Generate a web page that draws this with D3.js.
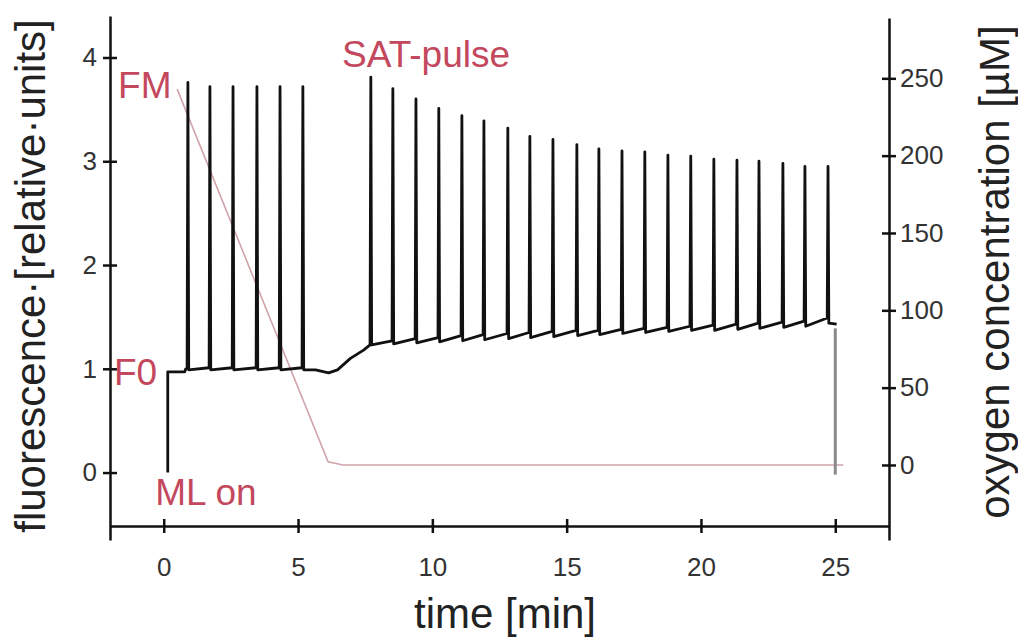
<!DOCTYPE html>
<html>
<head>
<meta charset="utf-8">
<script src="https://cdn.jsdelivr.net/npm/d3@7"></script>
<style>
	body { margin: 0; background: #fff; }
	svg { display: block; font-family: "Liberation Sans", Arial, sans-serif; }
</style>
</head>
<body>
<svg id="svg" width="1018" height="637"></svg>
<script>
"use strict";

// tick values
const timeTicks = [0, 5, 10, 15, 20, 25];
const fluoTicks = [0, 1, 2, 3, 4];
const oxyTicks = [0, 50, 100, 150, 200, 250];

// fluorescence trace: switching on the measuring light
const leadTime = [0.15, 0.15, 0.78, 0.82];
const leadValue = [0.0, 0.97, 0.97, 1.0];

// saturation pulses
const spikeTime = [0.9, 1.72, 2.58, 3.47, 4.33, 5.18, 7.71, 8.53, 9.39, 10.24, 11.1, 11.92, 12.81, 13.63, 14.49, 15.38, 16.2, 17.06, 17.91, 18.77, 19.62, 20.48, 21.34, 22.16, 23.05, 23.87, 24.73];
const spikePeak = [3.76, 3.72, 3.72, 3.72, 3.72, 3.72, 3.81, 3.7, 3.6, 3.51, 3.44, 3.39, 3.32, 3.24, 3.21, 3.16, 3.12, 3.1, 3.09, 3.06, 3.05, 3.02, 3.01, 3.0, 2.98, 2.95, 2.95];
const spikePre = [1.0, 1.01, 1.01, 1.01, 1.01, 1.01, 1.23, 1.27, 1.29, 1.3, 1.32, 1.33, 1.34, 1.35, 1.36, 1.37, 1.37, 1.38, 1.39, 1.4, 1.41, 1.42, 1.43, 1.44, 1.45, 1.46, 1.49];
const spikePost = [0.99, 0.99, 0.99, 0.99, 0.99, 0.99, 1.23, 1.24, 1.25, 1.26, 1.27, 1.28, 1.29, 1.3, 1.31, 1.32, 1.33, 1.34, 1.35, 1.36, 1.37, 1.37, 1.38, 1.39, 1.4, 1.41, 1.44];

// trace between the two pulse groups (anoxia dip)
const gapTime = [5.65, 6.14, 6.47, 6.95, 7.44];
const gapValue = [0.99, 0.96, 0.99, 1.1, 1.18];
const gapAfter = 5; // index of the pulse the gap follows

const tailTime = [25.05];
const tailValue = [1.43];

// measuring light off at the end (grey)
const offTime = [25.0, 25.0];
const offValue = [1.39, -0.02];

// oxygen concentration [µM]
const oxyTime = [0.5, 6.12, 6.67, 25.3];
const oxyValue = [243, 2, 0, 0];

// annotations
const notes = [
	{ text: "FM", t: -1.7, v: 3.61 },
	{ text: "SAT-pulse", t: 6.64, v: 3.91 },
	{ text: "F0", t: -1.85, v: 0.84 },
	{ text: "ML on", t: -0.32, v: -0.31 }
];

const svg = d3.select("#svg");

const x = d3.scaleLinear().domain([-2, 27]).range([110, 889]);
const y = d3.scaleLinear().domain([-0.65, 4.4]).range([540, 16]);
const yO = d3.scaleLinear().domain([-48.5, 289]).range([540, 18]);

// build the fluorescence points
const trace = [];
leadTime.forEach((t, i) => trace.push([t, leadValue[i]]));
spikeTime.forEach((t, i) => {
	trace.push([t - 0.03, spikePre[i]]);
	trace.push([t, spikePeak[i]]);
	trace.push([t + 0.03, spikePost[i]]);
	if (i === gapAfter) {
		gapTime.forEach((g, j) => trace.push([g, gapValue[j]]));
	}
});
tailTime.forEach((t, i) => trace.push([t, tailValue[i]]));

const lineF = d3
	.line()
	.x((d) => x(d[0]))
	.y((d) => y(d[1]));

const lineO = d3
	.line()
	.x((d) => x(d[0]))
	.y((d) => yO(d[1]));

// oxygen line underneath
svg.append("path")
	.datum(oxyTime.map((t, i) => [t, oxyValue[i]]))
	.attr("d", lineO)
	.style("fill", "none")
	.style("stroke", "#cfa3a9")
	.style("stroke-width", "1.6px");

// ML off segment
svg.append("path")
	.datum(offTime.map((t, i) => [t, offValue[i]]))
	.attr("d", lineF)
	.style("fill", "none")
	.style("stroke", "#8a8a8a")
	.style("stroke-width", "3px");

// fluorescence trace
svg.append("path")
	.datum(trace)
	.attr("d", lineF)
	.style("fill", "none")
	.style("stroke", "#111")
	.style("stroke-width", "2.8px")
	.style("stroke-linejoin", "round");

// axes
const styleAxis = function (g, inner) {
	g.select(".domain").style("stroke", "#111").style("stroke-width", "2.5px");
	g.selectAll(".tick line").style("stroke", "#111").style("stroke-width", "2.5px");
	g.selectAll(".tick text")
		.style("font-size", "26px")
		.style("fill", "#333")
		.style("font-family", "'Liberation Sans', Arial, sans-serif");
	inner(g.selectAll(".tick line"));
};

svg.append("g")
	.attr("transform", "translate(110,0)")
	.call(d3.axisLeft(y).tickValues(fluoTicks).tickFormat(d3.format("d")).tickSize(7).tickSizeOuter(0).tickPadding(6))
	.call(styleAxis, (l) => l.attr("x2", -7).attr("x1", 7));

svg.append("g")
	.attr("transform", "translate(889,0)")
	.call(d3.axisRight(yO).tickValues(oxyTicks).tickFormat(d3.format("d")).tickSize(7).tickSizeOuter(0).tickPadding(4))
	.call(styleAxis, (l) => l.attr("x2", 7).attr("x1", -7));

svg.append("g")
	.attr("transform", "translate(0,526)")
	.call(d3.axisBottom(x).tickValues(timeTicks).tickFormat(d3.format("d")).tickSize(7).tickSizeOuter(0).tickPadding(25))
	.call(styleAxis, (l) => l.attr("y2", 7).attr("y1", -7));

// axis titles
svg.append("text")
	.text("time [min]")
	.attr("x", 505)
	.attr("y", 628)
	.attr("text-anchor", "middle")
	.attr("font-size", "42px")
	.attr("fill", "#222");

svg.append("text")
	.text("fluorescence·[relative·units]")
	.attr("transform", "translate(45,276) rotate(-90)")
	.attr("text-anchor", "middle")
	.attr("font-size", "42px")
	.attr("fill", "#222");

svg.append("text")
	.text("oxygen concentration [µM]")
	.attr("transform", "translate(1009,272) rotate(-90)")
	.attr("text-anchor", "middle")
	.attr("font-size", "42px")
	.attr("fill", "#222");

// red annotations
svg.append("g")
	.selectAll("text")
	.data(notes)
	.enter()
	.append("text")
	.text((d) => d.text)
	.attr("x", (d) => x(d.t))
	.attr("y", (d) => y(d.v))
	.attr("font-size", "37px")
	.attr("fill", "#c4485d");
</script>
</body>
</html>
